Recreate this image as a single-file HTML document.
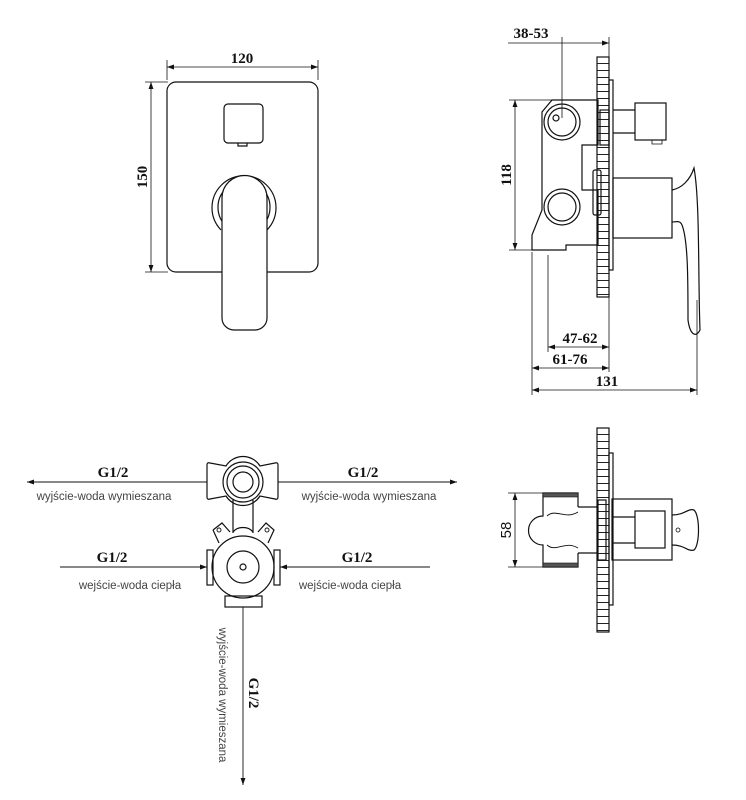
<!DOCTYPE html>
<html><head><meta charset="utf-8"><style>
html,body{margin:0;padding:0;background:#fff;}
svg{display:block;}
.d{font-family:"Liberation Serif",serif;font-weight:bold;font-size:15px;fill:#111;}
.s{font-family:"Liberation Sans",sans-serif;font-size:11.5px;fill:#444;}
</style></head><body>
<svg width="746" height="800" viewBox="0 0 746 800" xmlns="http://www.w3.org/2000/svg">
<defs>
<marker id="a" viewBox="0 0 10 10" refX="10" refY="5" markerWidth="9" markerHeight="7" orient="auto-start-reverse" markerUnits="userSpaceOnUse"><path d="M0,1.5 L10,5 L0,8.5 Z" fill="#111"/></marker>
<pattern id="lad" x="0" y="0" width="12" height="7" patternUnits="userSpaceOnUse"><line x1="0" y1="0.5" x2="12" y2="0.5" stroke="#222" stroke-width="1"/></pattern>
</defs>
<g fill="none" stroke="#111" stroke-width="1.2">
<!-- FRONT VIEW -->
<line x1="167" y1="60" x2="167" y2="80" stroke-width="0.8"/>
<line x1="318" y1="60" x2="318" y2="80" stroke-width="0.8"/>
<line x1="167" y1="67" x2="318" y2="67" stroke-width="0.8" marker-start="url(#a)" marker-end="url(#a)"/>
<line x1="145" y1="82" x2="168" y2="82" stroke-width="0.8"/>
<line x1="145" y1="272" x2="168" y2="272" stroke-width="0.8"/>
<line x1="151" y1="82" x2="151" y2="272" stroke-width="0.8" marker-start="url(#a)" marker-end="url(#a)"/>
<rect x="167" y="82" width="151" height="190" rx="9"/>
<rect x="224" y="104" width="39" height="39" rx="4"/>
<path d="M238,143 v3 h9 v-3"/>
<path d="M221,230 A32,32 0 1 1 267,230" />
<path d="M226,226 A26,26 0 1 1 262,226" />
<path d="M222,198 A22,22 0 0 1 267,198 V318 A12,12 0 0 1 255,330 H234 A12,12 0 0 1 222,318 Z" fill="#fff"/>
<!-- SIDE VIEW -->
<line x1="562" y1="37" x2="562" y2="118" stroke-width="0.8"/>
<line x1="609" y1="37" x2="609" y2="57" stroke-width="0.8"/>
<line x1="562" y1="43" x2="609" y2="43" stroke-width="0.8" marker-end="url(#a)"/>
<line x1="508" y1="43" x2="562" y2="43" stroke-width="0.8"/>
<rect x="597" y="57" width="12" height="240" fill="url(#lad)"/>
<rect x="609" y="80" width="4" height="190"/>
<path d="M552,100 H598 V145 H582 V190 H598 V245 H566 V250 H532 V235 L542,210 V145 L542,112 Z"/>
<circle cx="562" cy="122" r="18"/><circle cx="562" cy="122" r="14"/><circle cx="556" cy="118" r="3"/>
<circle cx="562" cy="207" r="18"/><circle cx="562" cy="207" r="14"/>
<rect x="600" y="110" width="9" height="35"/>
<rect x="593" y="170" width="8" height="45" rx="2"/>
<line x1="613" y1="110" x2="635" y2="110"/><line x1="613" y1="133" x2="635" y2="133"/>
<rect x="635" y="103" width="31" height="37"/>
<path d="M652,140 h10 v4 h-10 z" stroke-width="0.8"/>
<rect x="613" y="178" width="59" height="60"/>
<path d="M672,190 C682,188 690,180 694,168 C700,200 698,280 700,330 C696,338 690,335 688,320 C688,280 688,240 682,225 C680,220 676,222 672,222"/>
<line x1="509" y1="100" x2="552" y2="100" stroke-width="0.8"/>
<line x1="509" y1="250" x2="532" y2="250" stroke-width="0.8"/>
<line x1="515" y1="100" x2="515" y2="250" stroke-width="0.8" marker-start="url(#a)" marker-end="url(#a)"/>
<line x1="532" y1="252" x2="532" y2="395" stroke-width="0.8"/>
<line x1="548" y1="255" x2="548" y2="352" stroke-width="0.8"/>
<line x1="609" y1="297" x2="609" y2="372" stroke-width="0.8"/>
<line x1="697" y1="300" x2="697" y2="395" stroke-width="0.8"/>
<line x1="548" y1="347" x2="609" y2="347" stroke-width="0.8" marker-start="url(#a)" marker-end="url(#a)"/>
<line x1="532" y1="368" x2="609" y2="368" stroke-width="0.8" marker-start="url(#a)" marker-end="url(#a)"/>
<line x1="532" y1="390" x2="697" y2="390" stroke-width="0.8" marker-start="url(#a)" marker-end="url(#a)"/>
<!-- SCHEMATIC -->
<line x1="207" y1="482" x2="27" y2="482" stroke-width="0.9" marker-end="url(#a)"/>
<line x1="278" y1="482" x2="457" y2="482" stroke-width="0.9" marker-end="url(#a)"/>
<path d="M207,465 Q207,462 210,463 L226,466 A20,20 0 0 1 260,466 L275,463 Q278,462 278,465 V497 Q278,500 275,499 L260,496 A20,20 0 0 1 226,496 L210,499 Q207,500 207,497 Z"/>
<circle cx="243" cy="482" r="20"/><circle cx="243" cy="482" r="16"/><circle cx="243" cy="482" r="10"/>
<line x1="233" y1="500" x2="233" y2="533"/><line x1="253" y1="500" x2="253" y2="533"/>
<path d="M213,530 L222,523 L230,532 M258,532 L266,523 L274,530 L268,543 M213,530 L219,543"/>
<circle cx="219" cy="530" r="2" stroke-width="0.9"/><circle cx="267" cy="530" r="2" stroke-width="0.9"/>
<path d="M233,532 A12,10 0 0 1 253,532"/>
<circle cx="243" cy="567" r="31" fill="#fff"/>
<rect x="207" y="550" width="6" height="35"/><rect x="274" y="550" width="6" height="35"/>
<rect x="225" y="596" width="37" height="11"/>
<circle cx="243" cy="567" r="16"/><circle cx="243" cy="567" r="3"/>
<line x1="60" y1="567" x2="207" y2="567" stroke-width="0.9" marker-end="url(#a)"/>
<line x1="430" y1="567" x2="280" y2="567" stroke-width="0.9" marker-end="url(#a)"/>
<line x1="243" y1="607" x2="243" y2="785" stroke-width="0.9" marker-end="url(#a)"/>
<!-- SECTION VIEW -->
<rect x="597" y="428" width="12" height="204" fill="url(#lad)"/>
<rect x="609" y="453" width="4" height="152"/>
<line x1="508" y1="493" x2="545" y2="493" stroke-width="0.8"/>
<line x1="508" y1="567" x2="545" y2="567" stroke-width="0.8"/>
<line x1="515" y1="493" x2="515" y2="567" stroke-width="0.8" marker-start="url(#a)" marker-end="url(#a)"/>
<path d="M578,507 V493 H543 V516 A14,14 0 0 0 543,545 V567 H578 V553"/>
<line x1="578" y1="507" x2="598" y2="507"/><line x1="578" y1="553" x2="598" y2="553"/>
<rect x="543" y="493" width="35" height="4" fill="#555" stroke-width="0.6"/>
<rect x="543" y="563" width="35" height="4" fill="#555" stroke-width="0.6"/>
<path d="M547,516 C556,508 565,520 578,512 M547,545 C556,553 565,540 578,548" stroke-width="0.9"/>
<rect x="598" y="500" width="8" height="60"/>
<rect x="612" y="499" width="60" height="61"/>
<line x1="612" y1="517" x2="635" y2="517"/><line x1="612" y1="543" x2="635" y2="543"/>
<rect x="635" y="511" width="30" height="37"/>
<path d="M672,515 C685,515 688,508 694,510 C700,515 700,545 694,550 C688,552 685,545 672,545"/>
<circle cx="678" cy="530" r="2" stroke-width="0.8"/>
</g>
<!-- TEXT -->
<text class="d" x="242" y="63" text-anchor="middle">120</text>
<text class="d" transform="translate(147,177) rotate(-90)" text-anchor="middle">150</text>
<text class="d" x="531" y="38" text-anchor="middle">38-53</text>
<text class="d" transform="translate(511,175) rotate(-90)" text-anchor="middle">118</text>
<text class="d" x="580" y="343" text-anchor="middle">47-62</text>
<text class="d" x="570" y="364" text-anchor="middle">61-76</text>
<text class="d" x="607" y="386" text-anchor="middle">131</text>
<text class="d" transform="translate(511,530) rotate(-90)" text-anchor="middle" style="font-family:'Liberation Sans',sans-serif;font-weight:normal">58</text>
<text class="d" x="113" y="477" text-anchor="middle">G1/2</text>
<text class="d" x="363" y="477" text-anchor="middle">G1/2</text>
<text class="s" x="104" y="500" text-anchor="middle">wyjście-woda wymieszana</text>
<text class="s" x="369" y="500" text-anchor="middle">wyjście-woda wymieszana</text>
<text class="d" x="112" y="562" text-anchor="middle">G1/2</text>
<text class="d" x="357" y="562" text-anchor="middle">G1/2</text>
<text class="s" x="130" y="589" text-anchor="middle">wejście-woda ciepła</text>
<text class="s" x="350" y="589" text-anchor="middle">wejście-woda ciepła</text>
<text class="d" transform="translate(249,693) rotate(90)" text-anchor="middle">G1/2</text>
<text class="s" transform="translate(219,695) rotate(90)" text-anchor="middle">wyjście-woda wymieszana</text>
</svg>
</body></html>
